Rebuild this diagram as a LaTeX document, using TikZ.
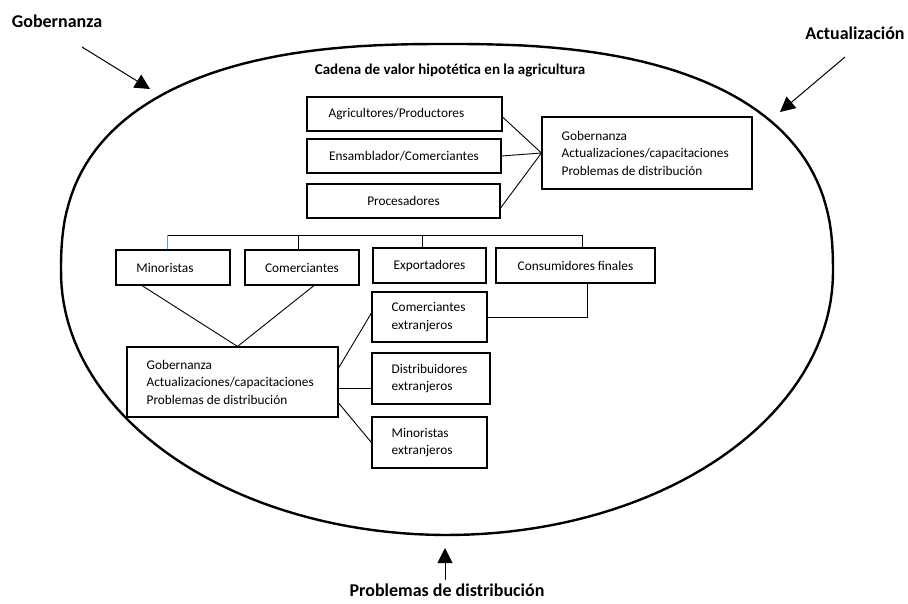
\documentclass[tikz,border=0pt]{standalone}
\usepackage{fontspec}
\setmainfont{Carlito}
\usetikzlibrary{arrows.meta,calc}
\definecolor{wordblue}{RGB}{91,155,213}
\tikzset{
  box/.style={draw, line width=1.1pt, inner sep=0pt, font=\fontsize{13.3}{17.5}\selectfont},
  boxtext/.style={anchor=west, inner sep=0pt, align=left, font=\fontsize{13.3}{17.5}\selectfont},
  link/.style={line width=0.9pt},
  biglabel/.style={font=\bfseries\fontsize{18}{20}\selectfont, inner sep=0pt},
  pointer/.style={line width=1pt, -{Triangle[length=15pt,width=15pt]}},
  % upper half of the oval is a little fuller than the lower half
  declare function={
    up(\t)=(sin(\t)<0);
    ex(\t)=up(\t)*0.8+(1-up(\t));
    ry(\t)=up(\t)*228+(1-up(\t))*263;
  }
}
\begin{document}
\begin{tikzpicture}[x=1pt,y=-1pt]
\useasboundingbox (0,0) rectangle (908,603);

% outer oval
\draw[line width=2.4pt] plot[domain=0.5:359.5, samples=180]
  ({447 + 386*sign(cos(\x))*pow(abs(cos(\x)),ex(\x))},
   {272 + ry(\x)*sign(sin(\x))*pow(abs(sin(\x)),ex(\x))}) -- cycle;

% title
\node[font=\bfseries\fontsize{15}{17}\selectfont] (title) at (450,70) {Cadena de valor hipotética en la agricultura};

% upper chain
\node[box, minimum width=195pt, minimum height=34pt] (agri) at (404.5,114) {\hspace*{-16pt}Agricultores/Productores};
\node[box, minimum width=194pt, minimum height=34pt] (ens) at (404,156) {Ensamblador/Comerciantes};
\node[box, minimum width=193pt, minimum height=34pt] (proc) at (403.5,201) {Procesadores};

\node[box, minimum width=210pt, minimum height=72pt] (gov1) at (647,153) {};
\node[boxtext] (gov1txt) at ([xshift=20pt]gov1.west) {Gobernanza\\Actualizaciones/capacitaciones\\Problemas de distribución};

\draw[link] ([yshift=-3pt]agri.east) -- (gov1.west);
\draw[link] (ens.east) -- (gov1.west);
\draw[link] ([yshift=-7pt]proc.east) -- (gov1.west);

% second row
\node[box, minimum width=114pt, minimum height=35pt] (mino) at (173,267.5) {\hspace*{-16pt}Minoristas};
\node[box, minimum width=114pt, minimum height=35pt] (come) at (302,267.5) {Comerciantes};
\node[box, minimum width=113pt, minimum height=35pt] (expo) at (429.5,265.5) {Exportadores};
\node[box, minimum width=159pt, minimum height=35pt] (cons) at (575.5,265.5) {Consumidores finales};

\coordinate (busL) at (167,235);
\coordinate (busR) at (582,235);
\draw[link] (busL) -- (busR);
\draw[link, wordblue] (busL) -- (busL |- mino.north);
\draw[link] (come.north -| 298,0) -- (298,235);
\draw[link] (expo.north -| 422,0) -- (422,235);
\draw[link] (busR) -- (busR |- cons.north);

% lower block
\node[box, minimum width=211pt, minimum height=70pt] (gov2) at (232.5,382) {};
\node[boxtext] (gov2txt) at ([xshift=20pt]gov2.west) {Gobernanza\\Actualizaciones/capacitaciones\\Problemas de distribución};

\node[box, minimum width=115pt, minimum height=50pt] (cext) at (429.5,317) {};
\node[boxtext] (cexttxt) at ([xshift=20pt]cext.west) {Comerciantes\\extranjeros};
\node[box, minimum width=118pt, minimum height=51pt] (dext) at (431,378.5) {};
\node[boxtext] (dexttxt) at ([xshift=20pt]dext.west) {Distribuidores\\extranjeros};
\node[box, minimum width=115pt, minimum height=51pt] (mext) at (429.5,442.5) {};
\node[boxtext] (mexttxt) at ([xshift=20pt]mext.west) {Minoristas\\extranjeros};

\draw[link] ([xshift=-31pt]mino.south) -- ([xshift=5pt]gov2.north);
\draw[link] ([xshift=12pt]come.south) -- ([xshift=5pt]gov2.north);
\draw[link] ([yshift=14pt]gov2.east) -- ([yshift=4pt]cext.west);
\draw[link] ([yshift=-6pt]gov2.east) -- ([yshift=-6pt]gov2.east -| dext.west);
\draw[link] ([yshift=-21pt]gov2.east) -- (mext.west);
\draw[link] (cext.east) -| ([xshift=11.5pt]cons.south);

% outside influences
\node[biglabel] (lgov) at (57,21) {Gobernanza};
\node[biglabel] (lact) at (855,33) {Actualización};
\node[biglabel] (lprob) at (447,590) {Problemas de distribución};
\coordinate (tipgov) at (150,89);
\coordinate (tipact) at (780,112);
\coordinate (tipprob) at (445,548);
\draw[pointer] (82,47) -- (tipgov);
\draw[pointer] (845,57) -- (tipact);
\draw[pointer] (445,580) -- (tipprob);
\end{tikzpicture}
\end{document}
